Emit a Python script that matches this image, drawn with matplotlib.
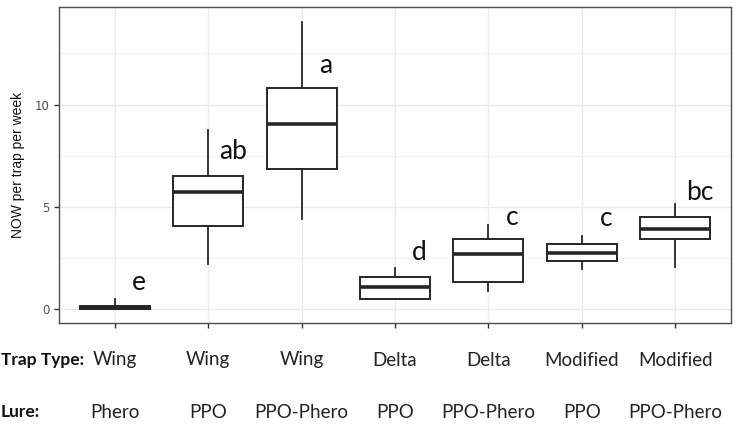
import matplotlib
matplotlib.use('Agg')
import matplotlib.pyplot as plt
from matplotlib.transforms import blended_transform_factory

# box stats (NOW per trap per week)
trap_types = ['Wing', 'Wing', 'Wing', 'Delta', 'Delta', 'Modified', 'Modified']
lures = ['Phero', 'PPO', 'PPO-Phero', 'PPO', 'PPO-Phero', 'PPO', 'PPO-Phero']
whisker_lo = [0.0, 2.2, 4.4, 0.5, 0.92, 1.96, 2.09]
q1 = [0.0, 4.09, 6.84, 0.51, 1.34, 2.35, 3.45]
medians = [0.05, 5.75, 9.05, 1.08, 2.71, 2.77, 3.94]
q3 = [0.15, 6.51, 10.82, 1.57, 3.44, 3.18, 4.53]
whisker_hi = [0.5, 8.75, 14.04, 2.04, 4.1, 3.59, 5.15]
letters = ['e', 'ab', 'a', 'd', 'c', 'c', 'bc']
letter_y = [1.3, 7.73, 11.9, 2.8, 4.5, 4.45, 5.7]

fig = plt.figure(figsize=(7.37, 4.25), dpi=100)
ax = fig.add_axes([0.080, 0.24, 0.912, 0.7435])

stats = []
for i in range(len(medians)):
    stats.append({'whislo': whisker_lo[i], 'q1': q1[i], 'med': medians[i],
                  'q3': q3[i], 'whishi': whisker_hi[i], 'fliers': []})

pos = list(range(1, len(medians) + 1))
dark = '#262626'
ax.bxp(stats, positions=pos, widths=0.75, showcaps=False, patch_artist=True,
       boxprops=dict(facecolor='white', edgecolor=dark, linewidth=1.4),
       whiskerprops=dict(color=dark, linewidth=1.3),
       medianprops=dict(color=dark, linewidth=2.6, solid_capstyle='butt'),
       zorder=3)

for x, lab, y in zip(pos, letters, letter_y):
    ax.text(x + 0.26, y, lab, fontsize=19, family='Lato', ha='center', va='center',
            color='#111111', zorder=4)

ax.set_xlim(0.4, 7.6)
ax.set_ylim(-0.66, 14.76)
ax.set_yticks([0, 5, 10])
ax.set_yticks([2.5, 7.5, 12.5], minor=True)
ax.set_xticks(pos)
ax.set_xticklabels([])
ax.grid(which='major', color='#ebebeb', linewidth=1.0, zorder=0)
ax.grid(which='minor', axis='y', color='#f3f3f3', linewidth=0.8, zorder=0)
ax.set_axisbelow(True)
ax.tick_params(which='major', length=3.5, width=1.0, color='#333333', labelsize=8.5,
               labelcolor='#4d4d4d', pad=3)
ax.tick_params(which='minor', length=0)
for sp in ax.spines.values():
    sp.set_color('#4d4d4d')
    sp.set_linewidth(1.0)
ax.set_ylabel('NOW per trap per week', fontsize=10, family='Liberation Sans',
              color='#111111', labelpad=7)

# two rows of category labels below the panel
tr = blended_transform_factory(ax.transData, fig.transFigure)
for x, t, l in zip(pos, trap_types, lures):
    ax.text(x, 1 - 360 / 425, t, transform=tr, ha='center', va='center',
            fontsize=13.5, family='Lato', color='#222222')
    ax.text(x, 1 - 412 / 425, l, transform=tr, ha='center', va='center',
            fontsize=13.5, family='Lato', color='#222222')
fig.text(1 / 737, 1 - 360 / 425, 'Trap Type:', ha='left', va='center',
         fontsize=12.5, family='Lato', weight='bold', color='#111111')
fig.text(1 / 737, 1 - 412 / 425, 'Lure:', ha='left', va='center',
         fontsize=12.5, family='Lato', weight='bold', color='#111111')

fig.savefig('out.png', dpi=100, facecolor='white')
